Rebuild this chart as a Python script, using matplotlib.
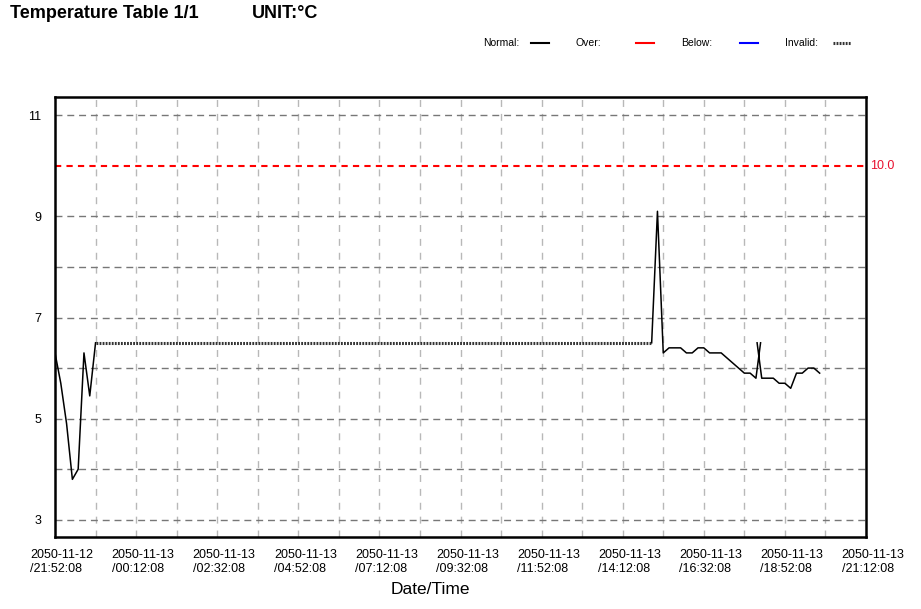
import datetime as dt
import matplotlib
matplotlib.use("Agg")
import matplotlib.pyplot as plt
import matplotlib.dates as mdates
import matplotlib.transforms as mtrans
from matplotlib.lines import Line2D

plt.rcParams['font.family'] = ['Liberation Sans', 'DejaVu Sans']

start = dt.datetime(2050, 11, 12, 21, 52, 8)
span_min = 1400

# minutes after start; None breaks the line
normal_min = [0, 10, 20, 30, 40, 50, 60, 70, None,
              1030, 1040, 1050, 1060, 1070, 1080, 1090, 1100, 1110, 1120,
              1130, 1140, 1150, 1160, 1170, 1180, 1190, 1200, 1210, 1218, None,
              1212, 1220, 1230, 1240, 1250, 1260, 1270, 1280, 1290, 1300,
              1310, 1320]
normal_val = [6.3, 5.7, 4.9, 3.8, 4.0, 6.3, 5.45, 6.5, None,
              6.5, 9.1, 6.3, 6.4, 6.4, 6.4, 6.3, 6.3, 6.4, 6.4,
              6.3, 6.3, 6.3, 6.2, 6.1, 6.0, 5.9, 5.9, 5.8, 6.5, None,
              6.5, 5.8, 5.8, 5.8, 5.7, 5.7, 5.6, 5.9, 5.9, 6.0,
              6.0, 5.9]

invalid_min = [70, 1030]
invalid_val = [6.5, 6.5]

over_limit = 10.0
y_ticks = [3, 5, 7, 9, 11]
y_minor = [4, 6, 8, 10]

DOTS = (0, (0.6, 0.4))


def to_time(m):
    if m is None:
        return None
    return start + dt.timedelta(minutes=m)


def to_num(ts, vs):
    xs, ys = [], []
    for t, v in zip(ts, vs):
        if t is None:
            xs.append(float('nan'))
            ys.append(float('nan'))
        else:
            xs.append(mdates.date2num(to_time(t)))
            ys.append(v)
    return xs, ys


fig = plt.figure(figsize=(9.21, 6.09), dpi=100)
ax = fig.add_axes([55 / 921, 1 - 537 / 609, 811 / 921, 440 / 609])

x0 = mdates.date2num(start)
x1 = mdates.date2num(to_time(span_min))

# grid
major_x = [mdates.date2num(to_time(m)) for m in range(0, span_min + 1, 140)]
minor_x = [mdates.date2num(to_time(m)) for m in range(70, span_min, 140)]
for xv in major_x[1:-1] + minor_x:
    ax.axvline(xv, color='#b8b8b8', lw=1, linestyle=(0, (5, 5)), zorder=1)
for yv in y_ticks + y_minor:
    if yv == over_limit:
        continue
    ax.axhline(yv, color='#777777', lw=1, linestyle=(0, (5, 3.5)), zorder=1)

ax.axhline(over_limit, color='#ff0000', lw=1.5, linestyle=(0, (3, 2.5)), zorder=2)
ax.text(1.005, over_limit, f"{over_limit:.1f}", color='#e8102e', fontsize=9,
        va='center', ha='left', transform=ax.get_yaxis_transform())

xs, ys = to_num(invalid_min, invalid_val)
ax.plot(xs, ys, color='#333333', lw=2.2, linestyle=DOTS, zorder=3)
xs, ys = to_num(normal_min, normal_val)
ax.plot(xs, ys, color='black', lw=1.1, zorder=4)

ax.set_xlim(x0, x1)
ax.set_ylim(2.66, 11.36)
ax.set_yticks(y_ticks)
ax.set_xticks(major_x)
ax.set_xticklabels([to_time(m).strftime('%Y-%m-%d\n/%H:%M:%S')
                    for m in range(0, span_min + 1, 140)])
ax.tick_params(axis='both', length=0, labelsize=9)
ax.tick_params(axis='y', pad=10)
ax.tick_params(axis='x', pad=9)
shift = mtrans.ScaledTranslation(7 / 100, 0, fig.dpi_scale_trans)
for lab in ax.get_xticklabels():
    lab.set_transform(lab.get_transform() + shift)
    lab.set_ha('center')
    lab.set_multialignment('left')
    lab.set_linespacing(1.2)
for s in ax.spines.values():
    s.set_linewidth(1.8)
    s.set_color('black')

fig.text(430 / 921, 1 - 590 / 609, 'Date/Time', fontsize=12.5, ha='center', va='center')

fig.text(10 / 921, 1 - 14 / 609, 'Temperature Table 1/1', fontsize=13,
         fontweight='bold', va='center', ha='left')
fig.text(252 / 921, 1 - 14 / 609, 'UNIT:°C', fontsize=13,
         fontweight='bold', va='center', ha='left')

# legend row
ly = 1 - 43 / 609
legend_items = [
    ('Normal:', 483, 531, dict(color='black', lw=1.5)),
    ('Over:', 576, 636, dict(color='#ff0000', lw=1.5)),
    ('Below:', 681, 740, dict(color='#0000ff', lw=1.5)),
    ('Invalid:', 785, 833, dict(color='#333333', lw=2.2, linestyle=DOTS)),
]
for name, tx, lx, style in legend_items:
    fig.text(tx / 921, ly, name, fontsize=7.5, va='center', ha='left')
    fig.add_artist(Line2D([lx / 921, (lx + 18) / 921], [ly, ly],
                          transform=fig.transFigure, **style))

fig.savefig('out.png', dpi=100)
